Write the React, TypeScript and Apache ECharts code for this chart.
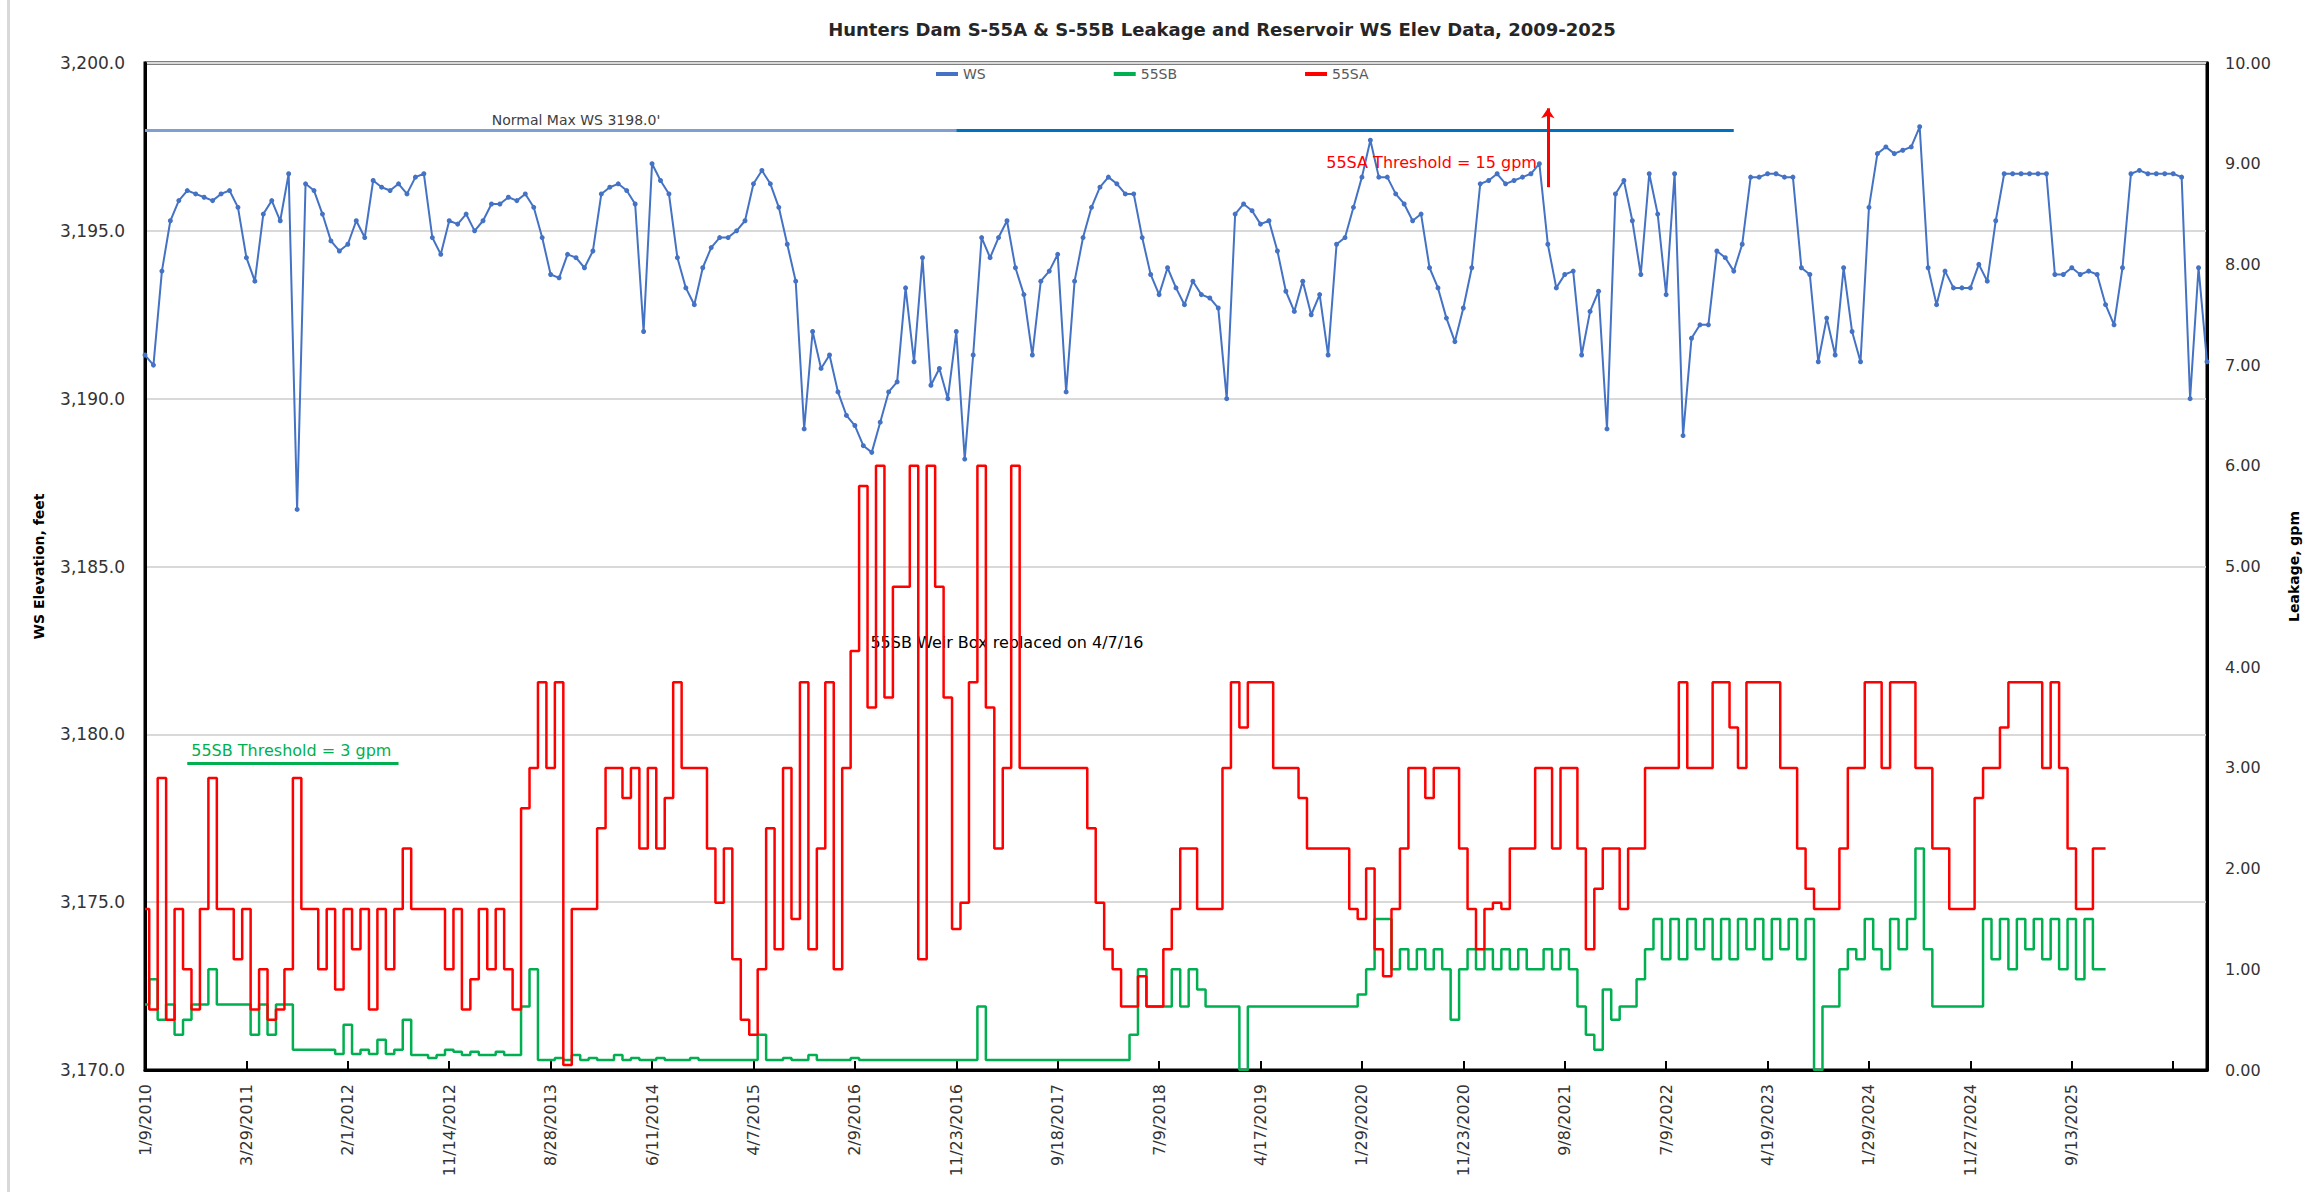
import React, { useEffect, useRef } from "react";
import * as echarts from "echarts";

const TITLE = "Hunters Dam S-55A & S-55B Leakage and Reservoir WS Elev Data, 2009-2025";
const FONT = "DejaVu Sans";

// x-axis tick labels (one every STEPS_PER_LABEL samples)
const tickLabels = [
  "1/9/2010", "3/29/2011", "2/1/2012", "11/14/2012", "8/28/2013", "6/11/2014", "4/7/2015",
  "2/9/2016", "11/23/2016", "9/18/2017", "7/9/2018", "4/17/2019", "1/29/2020", "11/23/2020",
  "9/8/2021", "7/9/2022", "4/19/2023", "1/29/2024", "11/27/2024", "9/13/2025",
];
const STEPS_PER_LABEL = 12;

// Reservoir water surface elevation (ft)
const wsElev = [
  3191.3, 3191.0, 3193.8, 3195.3, 3195.9, 3196.2, 3196.1, 3196.0, 3195.9, 3196.1,
  3196.2, 3195.7, 3194.2, 3193.5, 3195.5, 3195.9, 3195.3, 3196.7, 3186.7, 3196.4,
  3196.2, 3195.5, 3194.7, 3194.4, 3194.6, 3195.3, 3194.8, 3196.5, 3196.3, 3196.2,
  3196.4, 3196.1, 3196.6, 3196.7, 3194.8, 3194.3, 3195.3, 3195.2, 3195.5, 3195.0,
  3195.3, 3195.8, 3195.8, 3196.0, 3195.9, 3196.1, 3195.7, 3194.8, 3193.7, 3193.6,
  3194.3, 3194.2, 3193.9, 3194.4, 3196.1, 3196.3, 3196.4, 3196.2, 3195.8, 3192.0,
  3197.0, 3196.5, 3196.1, 3194.2, 3193.3, 3192.8, 3193.9, 3194.5, 3194.8, 3194.8,
  3195.0, 3195.3, 3196.4, 3196.8, 3196.4, 3195.7, 3194.6, 3193.5, 3189.1, 3192.0,
  3190.9, 3191.3, 3190.2, 3189.5, 3189.2, 3188.6, 3188.4, 3189.3, 3190.2, 3190.5,
  3193.3, 3191.1, 3194.2, 3190.4, 3190.9, 3190.0, 3192.0, 3188.2, 3191.3, 3194.8,
  3194.2, 3194.8, 3195.3, 3193.9, 3193.1, 3191.3, 3193.5, 3193.8, 3194.3, 3190.2,
  3193.5, 3194.8, 3195.7, 3196.3, 3196.6, 3196.4, 3196.1, 3196.1, 3194.8, 3193.7,
  3193.1, 3193.9, 3193.3, 3192.8, 3193.5, 3193.1, 3193.0, 3192.7, 3190.0, 3195.5,
  3195.8, 3195.6, 3195.2, 3195.3, 3194.4, 3193.2, 3192.6, 3193.5, 3192.5, 3193.1,
  3191.3, 3194.6, 3194.8, 3195.7, 3196.6, 3197.7, 3196.6, 3196.6, 3196.1, 3195.8,
  3195.3, 3195.5, 3193.9, 3193.3, 3192.4, 3191.7, 3192.7, 3193.9, 3196.4, 3196.5,
  3196.7, 3196.4, 3196.5, 3196.6, 3196.7, 3197.0, 3194.6, 3193.3, 3193.7, 3193.8,
  3191.3, 3192.6, 3193.2, 3189.1, 3196.1, 3196.5, 3195.3, 3193.7, 3196.7, 3195.5,
  3193.1, 3196.7, 3188.9, 3191.8, 3192.2, 3192.2, 3194.4, 3194.2, 3193.8, 3194.6,
  3196.6, 3196.6, 3196.7, 3196.7, 3196.6, 3196.6, 3193.9, 3193.7, 3191.1, 3192.4,
  3191.3, 3193.9, 3192.0, 3191.1, 3195.7, 3197.3, 3197.5, 3197.3, 3197.4, 3197.5,
  3198.1, 3193.9, 3192.8, 3193.8, 3193.3, 3193.3, 3193.3, 3194.0, 3193.5, 3195.3,
  3196.7, 3196.7, 3196.7, 3196.7, 3196.7, 3196.7, 3193.7, 3193.7, 3193.9, 3193.7,
  3193.8, 3193.7, 3192.8, 3192.2, 3193.9, 3196.7, 3196.8, 3196.7, 3196.7, 3196.7,
  3196.7, 3196.6, 3190.0, 3193.9, 3191.1,
];

// 55SB leakage (gpm)
const leak55SB = [
  0.65, 0.9, 0.5, 0.65, 0.35, 0.5, 0.65, 0.65, 1.0, 0.65,
  0.65, 0.65, 0.65, 0.35, 0.65, 0.35, 0.65, 0.65, 0.2, 0.2,
  0.2, 0.2, 0.2, 0.16, 0.45, 0.16, 0.2, 0.16, 0.3, 0.16,
  0.2, 0.5, 0.15, 0.15, 0.12, 0.15, 0.2, 0.18, 0.15, 0.18,
  0.15, 0.15, 0.18, 0.15, 0.15, 0.63, 1.0, 0.1, 0.1, 0.12,
  0.1, 0.15, 0.1, 0.12, 0.1, 0.1, 0.15, 0.1, 0.12, 0.1,
  0.1, 0.12, 0.1, 0.1, 0.1, 0.12, 0.1, 0.1, 0.1, 0.1,
  0.1, 0.1, 0.1, 0.35, 0.1, 0.1, 0.12, 0.1, 0.1, 0.15,
  0.1, 0.1, 0.1, 0.1, 0.12, 0.1, 0.1, 0.1, 0.1, 0.1,
  0.1, 0.1, 0.1, 0.1, 0.1, 0.1, 0.1, 0.1, 0.1, 0.63,
  0.1, 0.1, 0.1, 0.1, 0.1, 0.1, 0.1, 0.1, 0.1, 0.1,
  0.1, 0.1, 0.1, 0.1, 0.1, 0.1, 0.1, 0.35, 1.0, 0.63,
  0.63, 0.63, 1.0, 0.63, 1.0, 0.8, 0.63, 0.63, 0.63, 0.63,
  0.0, 0.63, 0.63, 0.63, 0.63, 0.63, 0.63, 0.63, 0.63, 0.63,
  0.63, 0.63, 0.63, 0.63, 0.75, 1.0, 1.5, 1.5, 1.0, 1.2,
  1.0, 1.2, 1.0, 1.2, 1.0, 0.5, 1.0, 1.2, 1.0, 1.2,
  1.0, 1.2, 1.0, 1.2, 1.0, 1.0, 1.2, 1.0, 1.2, 1.0,
  0.63, 0.35, 0.2, 0.8, 0.5, 0.63, 0.63, 0.9, 1.2, 1.5,
  1.1, 1.5, 1.1, 1.5, 1.2, 1.5, 1.1, 1.5, 1.1, 1.5,
  1.2, 1.5, 1.1, 1.5, 1.2, 1.5, 1.1, 1.5, 0.0, 0.63,
  0.63, 1.0, 1.2, 1.1, 1.5, 1.2, 1.0, 1.5, 1.2, 1.5,
  2.2, 1.2, 0.63, 0.63, 0.63, 0.63, 0.63, 0.63, 1.5, 1.1,
  1.5, 1.0, 1.5, 1.2, 1.5, 1.1, 1.5, 1.0, 1.5, 0.9,
  1.5, 1.0, 1.0,
];

// 55SA leakage (gpm)
const leak55SA = [
  1.6, 0.6, 2.9, 0.5, 1.6, 1.0, 0.6, 1.6, 2.9, 1.6,
  1.6, 1.1, 1.6, 0.6, 1.0, 0.5, 0.6, 1.0, 2.9, 1.6,
  1.6, 1.0, 1.6, 0.8, 1.6, 1.2, 1.6, 0.6, 1.6, 1.0,
  1.6, 2.2, 1.6, 1.6, 1.6, 1.6, 1.0, 1.6, 0.6, 0.9,
  1.6, 1.0, 1.6, 1.0, 0.6, 2.6, 3.0, 3.85, 3.0, 3.85,
  0.05, 1.6, 1.6, 1.6, 2.4, 3.0, 3.0, 2.7, 3.0, 2.2,
  3.0, 2.2, 2.7, 3.85, 3.0, 3.0, 3.0, 2.2, 1.66, 2.2,
  1.1, 0.5, 0.35, 1.0, 2.4, 1.2, 3.0, 1.5, 3.85, 1.2,
  2.2, 3.85, 1.0, 3.0, 4.16, 5.8, 3.6, 6.0, 3.7, 4.8,
  4.8, 6.0, 1.1, 6.0, 4.8, 3.7, 1.4, 1.66, 3.85, 6.0,
  3.6, 2.2, 3.0, 6.0, 3.0, 3.0, 3.0, 3.0, 3.0, 3.0,
  3.0, 3.0, 2.4, 1.66, 1.2, 1.0, 0.63, 0.63, 0.93, 0.63,
  0.63, 1.2, 1.6, 2.2, 2.2, 1.6, 1.6, 1.6, 3.0, 3.85,
  3.4, 3.85, 3.85, 3.85, 3.0, 3.0, 3.0, 2.7, 2.2, 2.2,
  2.2, 2.2, 2.2, 1.6, 1.5, 2.0, 1.2, 0.93, 1.6, 2.2,
  3.0, 3.0, 2.7, 3.0, 3.0, 3.0, 2.2, 1.6, 1.2, 1.6,
  1.66, 1.6, 2.2, 2.2, 2.2, 3.0, 3.0, 2.2, 3.0, 3.0,
  2.2, 1.2, 1.8, 2.2, 2.2, 1.6, 2.2, 2.2, 3.0, 3.0,
  3.0, 3.0, 3.85, 3.0, 3.0, 3.0, 3.85, 3.85, 3.4, 3.0,
  3.85, 3.85, 3.85, 3.85, 3.0, 3.0, 2.2, 1.8, 1.6, 1.6,
  1.6, 2.2, 3.0, 3.0, 3.85, 3.85, 3.0, 3.85, 3.85, 3.85,
  3.0, 3.0, 2.2, 2.2, 1.6, 1.6, 1.6, 2.7, 3.0, 3.0,
  3.4, 3.85, 3.85, 3.85, 3.85, 3.0, 3.85, 3.0, 2.2, 1.6,
  1.6, 2.2, 2.2,
];

// reference values used by the annotations
const normalMaxWS = 3198.0;
const threshold55SB = 3.05;
const normalMaxSplit = 96;   // sample index where the normal max line changes colour
const normalMaxEnd = 188;
const normalMaxLabelIndex = 51;
const arrowIndex = 166;
const weirIndex = 102;

export default function App() {
  const ref = useRef<HTMLDivElement>(null);

  useEffect(() => {
    if (!ref.current) return;
    const chart = echarts.init(ref.current, undefined, { renderer: "svg" });
    const categories = wsElev.map((_, i) => String(i));

    const option: any = {
      animation: false,
      backgroundColor: "#ffffff",
      textStyle: { fontFamily: FONT },
      graphic: [
        { type: "rect", shape: { x: 7, y: 0, width: 3, height: 1192 }, style: { fill: "#D9D9D9" }, silent: true },
        {
          type: "text",
          x: 1222,
          y: 29,
          style: {
            text: TITLE,
            textAlign: "center",
            textVerticalAlign: "middle",
            fontFamily: FONT,
            fontSize: 18,
            fontWeight: "bold",
            fill: "#262626",
          },
        },
      ],
      legend: {
        data: ["WS", "55SB", "55SA"],
        left: 931,
        top: 62,
        icon: "rect",
        itemWidth: 22,
        itemHeight: 4,
        itemGap: 128,
        textStyle: { fontFamily: FONT, fontSize: 14, color: "#595959" },
      },
      grid: {
        left: 145,
        right: 113,
        top: 63,
        bottom: 122,
        show: true,
        borderColor: "#000",
        borderWidth: 3,
        containLabel: false,
      },
      xAxis: {
        type: "category",
        data: categories,
        boundaryGap: false,
        axisLine: { show: true, lineStyle: { color: "#000", width: 3 } },
        axisTick: { show: true, inside: true, length: 9, interval: STEPS_PER_LABEL - 1, lineStyle: { color: "#000", width: 2 } },
        axisLabel: {
          interval: STEPS_PER_LABEL - 1,
          rotate: 90,
          margin: 14,
          fontFamily: FONT,
          fontSize: 16,
          color: "#333",
          formatter: (_v: string, idx: number) =>
            idx % STEPS_PER_LABEL === 0 ? tickLabels[idx / STEPS_PER_LABEL] || "" : "",
        },
        splitLine: { show: false },
      },
      yAxis: [
        {
          type: "value",
          min: 3170,
          max: 3200,
          interval: 5,
          position: "left",
          name: "WS Elevation, feet",
          nameLocation: "middle",
          nameRotate: 90,
          nameGap: 99,
          nameTextStyle: { fontFamily: FONT, fontSize: 14, fontWeight: "bold", color: "#000" },
          axisLine: { show: true, lineStyle: { color: "#000", width: 3 } },
          axisTick: { show: false },
          axisLabel: {
            margin: 20,
            fontFamily: FONT,
            fontSize: 17,
            color: "#333",
            formatter: (v: number) =>
              v.toLocaleString("en-US", { minimumFractionDigits: 1, maximumFractionDigits: 1 }),
          },
          splitLine: { show: true, lineStyle: { color: "#D9D9D9", width: 2 } },
        },
        {
          type: "value",
          min: 0,
          max: 10,
          interval: 1,
          position: "right",
          name: "Leakage, gpm",
          nameLocation: "middle",
          nameRotate: 90,
          nameGap: 80,
          nameTextStyle: { fontFamily: FONT, fontSize: 14, fontWeight: "bold", color: "#000" },
          axisLine: { show: true, lineStyle: { color: "#000", width: 3 } },
          axisTick: { show: false },
          axisLabel: {
            margin: 18,
            fontFamily: FONT,
            fontSize: 16,
            color: "#333",
            formatter: (v: number) => v.toFixed(2),
          },
          splitLine: { show: false },
        },
      ],
      series: [
        {
          name: "WS",
          type: "line",
          yAxisIndex: 0,
          data: wsElev,
          color: "#4472C4",
          symbol: "circle",
          symbolSize: 5,
          showSymbol: true,
          lineStyle: { color: "#4472C4", width: 2 },
          itemStyle: { color: "#4472C4" },
          z: 3,
          markLine: {
            silent: true,
            symbol: ["none", "none"],
            animation: false,
            label: { show: false },
            data: [
              [
                {
                  coord: ["0", normalMaxWS],
                  lineStyle: { color: "#7F9FD3", width: 3, type: "solid" },
                },
                { coord: [String(normalMaxSplit), normalMaxWS] },
              ],
              [
                {
                  coord: [String(normalMaxSplit), normalMaxWS],
                  lineStyle: { color: "#0070C0", width: 3, type: "solid" },
                },
                { coord: [String(normalMaxEnd), normalMaxWS] },
              ],
              [
                {
                  coord: [String(arrowIndex), 3196.3],
                  symbol: "none",
                  lineStyle: { color: "#FF0000", width: 3, type: "solid" },
                },
                { coord: [String(arrowIndex), 3198.65], symbol: "arrow", symbolSize: 10 },
              ],
            ],
          },
          markPoint: {
            silent: true,
            symbol: "circle",
            symbolSize: 1,
            itemStyle: { color: "rgba(0,0,0,0)" },
            data: [
              {
                coord: [String(normalMaxLabelIndex), normalMaxWS],
                label: {
                  show: true,
                  position: "top",
                  distance: 3,
                  formatter: "Normal Max WS 3198.0'",
                  fontFamily: FONT,
                  fontSize: 14,
                  color: "#404040",
                },
              },
              {
                coord: [String(arrowIndex - 1), 3197.05],
                label: {
                  show: true,
                  position: "left",
                  distance: 2,
                  formatter: "55SA Threshold = 15 gpm",
                  fontFamily: FONT,
                  fontSize: 16,
                  color: "#FF0000",
                },
              },
              {
                coord: [String(weirIndex), 3182.75],
                label: {
                  show: true,
                  position: "inside",
                  formatter: "55SB Weir Box replaced on 4/7/16",
                  fontFamily: FONT,
                  fontSize: 16,
                  color: "#000",
                },
              },
            ],
          },
        },
        {
          name: "55SB",
          type: "line",
          yAxisIndex: 1,
          data: leak55SB,
          color: "#00B050",
          step: "middle",
          showSymbol: false,
          symbol: "none",
          lineStyle: { color: "#00B050", width: 2.5 },
          z: 4,
          markLine: {
            silent: true,
            symbol: ["none", "none"],
            animation: false,
            data: [
              [
                {
                  coord: ["5", threshold55SB],
                  lineStyle: { color: "#00B050", width: 3, type: "solid" },
                  label: {
                    show: true,
                    position: "insideStartTop",
                    distance: 4,
                    formatter: "55SB Threshold = 3 gpm",
                    fontFamily: FONT,
                    fontSize: 16,
                    color: "#00B050",
                  },
                },
                { coord: ["30", threshold55SB] },
              ],
            ],
          },
        },
        {
          name: "55SA",
          type: "line",
          yAxisIndex: 1,
          data: leak55SA,
          color: "#FF0000",
          step: "middle",
          showSymbol: false,
          symbol: "none",
          lineStyle: { color: "#FF0000", width: 2.5 },
          z: 5,
        },
      ],
    };

    chart.setOption(option);
    return () => chart.dispose();
  }, []);

  return (
    <div
      ref={ref}
      style={{ position: "absolute", left: 0, top: 0, width: 2320, height: 1192, background: "#fff" }}
    />
  );
}
